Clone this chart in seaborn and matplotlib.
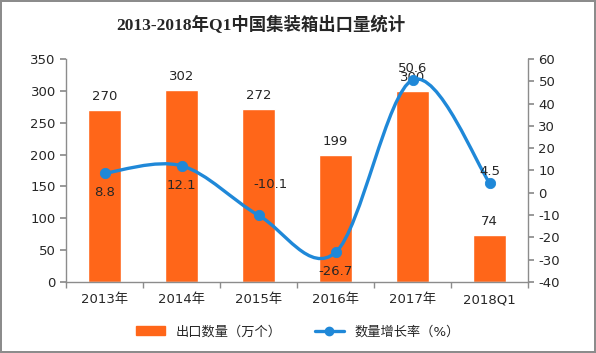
import numpy as np
import pandas as pd
import seaborn as sns
import matplotlib.pyplot as plt
from matplotlib.path import Path
from matplotlib.patches import PathPatch, Patch
from matplotlib.lines import Line2D

# data
years = ["2013年", "2014年", "2015年", "2016年", "2017年", "2018Q1"]
export_qty = [270, 302, 272, 199, 300, 74]       # 万个
growth_rate = [8.8, 12.1, -10.1, -26.7, 50.6, 4.5]  # %

bar_color = "#FF6619"
line_color = "#1F88D8"
grey = "#8C8C8C"

sns.set_theme(style="white")
plt.rcParams['font.family'] = ['DejaVu Sans', 'Noto Sans CJK SC']
plt.rcParams['axes.unicode_minus'] = False

df = pd.DataFrame({"year": years, "qty": export_qty, "rate": growth_rate})

fig = plt.figure(figsize=(5.96, 3.53), dpi=100)
fig.patch.set_edgecolor(grey)
fig.patch.set_linewidth(1.5)
ax = fig.add_axes([0.111, 0.201, 0.775, 0.632])

sns.barplot(data=df, x="year", y="qty", color=bar_color, width=0.42,
            saturation=1, ax=ax)
ax.set_ylim(0, 350)
ax.set_yticks(range(0, 351, 50))
ax.set_xlim(-0.5, 5.5)
ax.set(xlabel=None, ylabel=None)

for i, v in enumerate(export_qty):
    ax.text(i, v + 11, str(v), ha="center", va="bottom", fontsize=9.5)

ax2 = ax.twinx()
# smooth curve (Excel-style) via cubic Bezier through the data points
xs = np.arange(len(growth_rate), dtype=float)
ys = np.array(growth_rate, dtype=float)
pts = np.column_stack([xs, ys])
verts = [pts[0]]
codes = [Path.MOVETO]
n = len(pts)
for i in range(n - 1):
    p0 = pts[i - 1] if i > 0 else pts[i]
    p1 = pts[i]
    p2 = pts[i + 1]
    p3 = pts[i + 2] if i + 2 < n else pts[i + 1]
    c1 = p1 + (p2 - p0) / 6.0
    c2 = p2 - (p3 - p1) / 6.0
    verts += [c1, c2, p2]
    codes += [Path.CURVE4] * 3
ax2.add_patch(PathPatch(Path(verts, codes), facecolor="none",
                        edgecolor=line_color, lw=2.4, zorder=3))
sns.scatterplot(x=xs, y=ys, color=line_color, s=55, edgecolor=line_color,
                zorder=4, ax=ax2)
ax2.set_ylim(-40, 60)
ax2.set_yticks(range(-40, 61, 10))
ax2.set_xlim(-0.5, 5.5)

offsets = [-14, -14, 22, -14, 8.5, 8]
for i, (v, off) in enumerate(zip(growth_rate, offsets)):
    dx = 0.16 if i == 2 else 0
    ax2.annotate(f"{v}", (i + dx, v), textcoords="offset points",
                 xytext=(0, off), ha="center", va="center", fontsize=9.5)

# axes styling
for a in (ax, ax2):
    for s in a.spines.values():
        s.set_visible(False)
ax.spines["left"].set_visible(True)
ax.spines["bottom"].set_visible(True)
ax2.spines["right"].set_visible(True)
for s in (ax.spines["left"], ax.spines["bottom"], ax2.spines["right"]):
    s.set_color(grey)
    s.set_linewidth(1)

ax.set_xticks(range(len(years)))
ax.set_xticklabels(years)
ax.set_xticks(np.arange(-0.5, 5.6, 1), minor=True)
ax.tick_params(axis="x", which="major", length=0, pad=8, labelsize=9.5)
ax.tick_params(axis="x", which="minor", length=4, color=grey, direction="out", bottom=True)
ax.tick_params(axis="y", length=4, color=grey, direction="out", left=True, labelsize=9.5)
ax2.tick_params(axis="y", length=4, color=grey, direction="out", right=True, labelsize=9.5)

fig.text(0.437, 0.929, "2013-2018年Q1中国集装箱出口量统计", ha="center", va="center",
         fontsize=12.5, fontweight="bold", family=['Liberation Serif', 'Noto Sans CJK SC'])

handles = [Patch(facecolor=bar_color, edgecolor=bar_color),
           Line2D([0], [0], color=line_color, lw=2.4, marker="o", markersize=6)]
fig.legend(handles, ["出口数量（万个）", "数量增长率（%）"], loc="center",
           bbox_to_anchor=(0.5, 0.06), ncol=2, frameon=False, fontsize=9.5,
           handlelength=2.2, columnspacing=2.5)

fig.savefig("out.png", dpi=100)
